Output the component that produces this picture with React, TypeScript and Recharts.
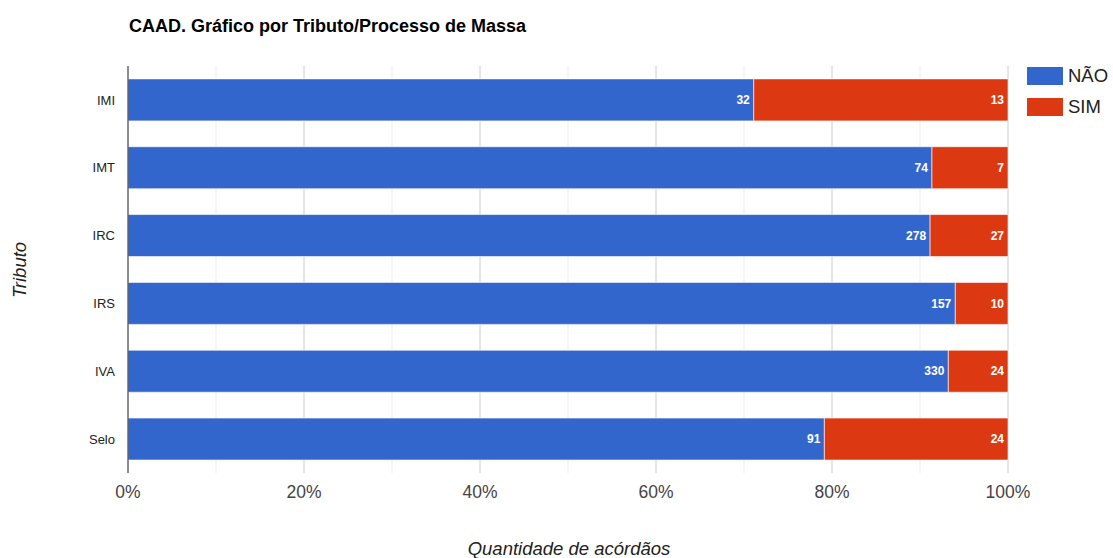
import { Bar, BarChart, CartesianGrid, LabelList, XAxis, YAxis } from "recharts";

const categories = ["IMI", "IMT", "IRC", "IRS", "IVA", "Selo"];
const naoValues = [32, 74, 278, 157, 330, 91];
const simValues = [13, 7, 27, 10, 24, 24];
const majorTicks = [0, 0.2, 0.4, 0.6, 0.8, 1];
const minorTicks = [0.1, 0.3, 0.5, 0.7, 0.9];

const data = categories.map((name, i) => ({ name, nao: naoValues[i], sim: simValues[i] }));

const FONT = "Arial, 'Liberation Sans', sans-serif";

const series = [
  { key: "nao", label: "NÃO", color: "#3366cc" },
  { key: "sim", label: "SIM", color: "#dc3912" }
];

// minor gridlines between the 20% steps
function minorLines({ xAxis, offset }: any) {
  const sc = xAxis?.scale;
  return minorTicks.map((t) => {
    if (typeof sc === "function") return sc(t);
    if (sc && typeof sc.map === "function") return sc.map(t);
    return offset.left + t * offset.width;
  });
}

function LegendBox() {
  return (
    <div style={{ position: "absolute", left: 1027, top: 60, fontFamily: FONT }}>
      {series.map((s) => (
        <div key={s.key} style={{ display: "flex", alignItems: "center", height: 31 }}>
          <div style={{ width: 36, height: 18, background: s.color, marginRight: 5 }} />
          <span style={{ fontSize: 18.5, color: "#222" }}>{s.label}</span>
        </div>
      ))}
    </div>
  );
}

export default function App() {
  return (
    <div style={{ position: "absolute", left: 0, top: 0, width: 1113, height: 558, background: "#fff" }}>
      <div
        style={{
          position: "absolute",
          left: 129,
          top: 16,
          fontFamily: FONT,
          fontWeight: "bold",
          fontSize: 18,
          color: "#000"
        }}
      >
        CAAD. Gráfico por Tributo/Processo de Massa
      </div>
      <LegendBox />
      <BarChart
        width={1113}
        height={558}
        data={data}
        layout="vertical"
        stackOffset="expand"
        barCategoryGap="19%"
        margin={{ top: 66, right: 105, bottom: 55, left: 0 }}
        style={{ fontFamily: FONT, position: "absolute", left: 0, top: 0 }}
      >
        <CartesianGrid horizontal={false} stroke="#ebebeb" verticalCoordinatesGenerator={minorLines} />
        <CartesianGrid horizontal={false} stroke="#cccccc" />
        <XAxis
          type="number"
          domain={[0, 1]}
          ticks={majorTicks}
          tickFormatter={(v: number) => `${Math.round(v * 100)}%`}
          axisLine={false}
          tickLine={false}
          tickSize={0}
          tickMargin={13}
          height={30}
          tick={{ fontSize: 17.5, fill: "#444" }}
          label={{
            content: () => (
              <text x={569} y={555} textAnchor="middle" fontSize={18.5} fontStyle="italic" fill="#222">
                Quantidade de acórdãos
              </text>
            )
          }}
        />
        <YAxis
          type="category"
          dataKey="name"
          width={128}
          tickLine={false}
          tickSize={0}
          tickMargin={13}
          axisLine={{ stroke: "#333" }}
          tick={{ fontSize: 13, fill: "#222" }}
          label={{
            content: () => (
              <text
                x={26}
                y={270}
                textAnchor="middle"
                fontSize={18.5}
                fontStyle="italic"
                fill="#222"
                transform="rotate(-90 26 270)"
              >
                Tributo
              </text>
            )
          }}
        />
        {series.map((s) => (
          <Bar
            key={s.key}
            dataKey={s.key}
            name={s.label}
            stackId="a"
            fill={s.color}
            stroke="#ffffff"
            strokeOpacity={0.6}
            strokeWidth={1}
            isAnimationActive={false}
          >
            <LabelList
              dataKey={s.key}
              position="insideRight"
              offset={4}
              fill="#ffffff"
              fontSize={12}
              fontWeight="bold"
            />
          </Bar>
        ))}
      </BarChart>
    </div>
  );
}
